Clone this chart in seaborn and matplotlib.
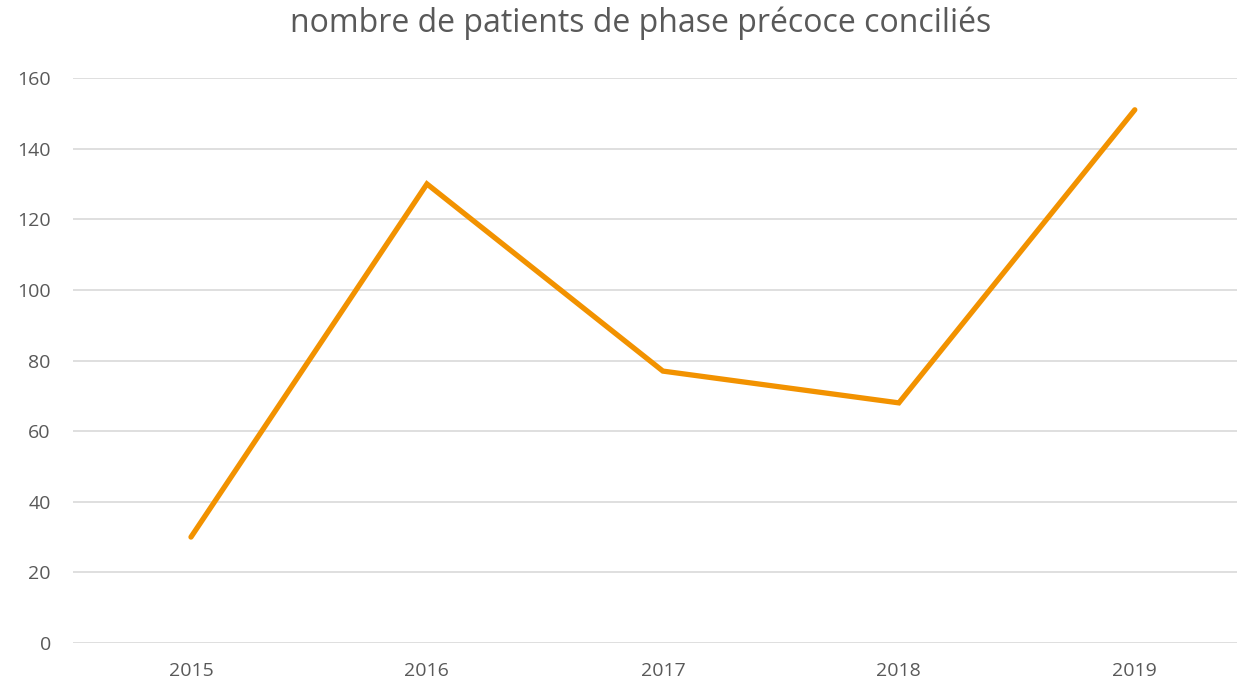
import matplotlib
matplotlib.use("Agg")
import matplotlib.pyplot as plt
import seaborn as sns
import pandas as pd

years = ["2015", "2016", "2017", "2018", "2019"]
patients = [30, 130, 77, 68, 151]
y_ticks = [0, 20, 40, 60, 80, 100, 120, 140, 160]

df = pd.DataFrame({"Année": years, "Patients": patients})

sns.set_theme(style="white")
plt.rcParams["font.family"] = ["Open Sans", "DejaVu Sans"]

fig = plt.figure(figsize=(12.37, 6.87), dpi=100)
ax = fig.add_axes([73 / 1237, 44 / 687, (1237 - 73) / 1237, (643 - 78) / 687])

ax.set_ylim(0, 160)
ax.set_yticks(y_ticks)
ax.grid(axis="y", color="#d9d9d9", linewidth=1.2)
ax.set_axisbelow(True)

sns.lineplot(data=df, x="Année", y="Patients", sort=False, color="#F29200",
             linewidth=3.8, solid_capstyle="round", solid_joinstyle="miter", ax=ax)

ax.set_xlim(-0.5, (1237 - 193) / 235.5)
ax.set_xlabel("")
ax.set_ylabel("")
for s in ax.spines.values():
    s.set_visible(False)
ax.tick_params(axis="both", length=0, labelsize=14, labelcolor="#595959")
ax.tick_params(axis="y", pad=16)
ax.tick_params(axis="x", pad=14)

fig.suptitle("nombre de patients de phase précoce conciliés", fontsize=23,
             color="#595959", x=641 / 1237, y=0.99)

fig.savefig("out.png", dpi=100)
